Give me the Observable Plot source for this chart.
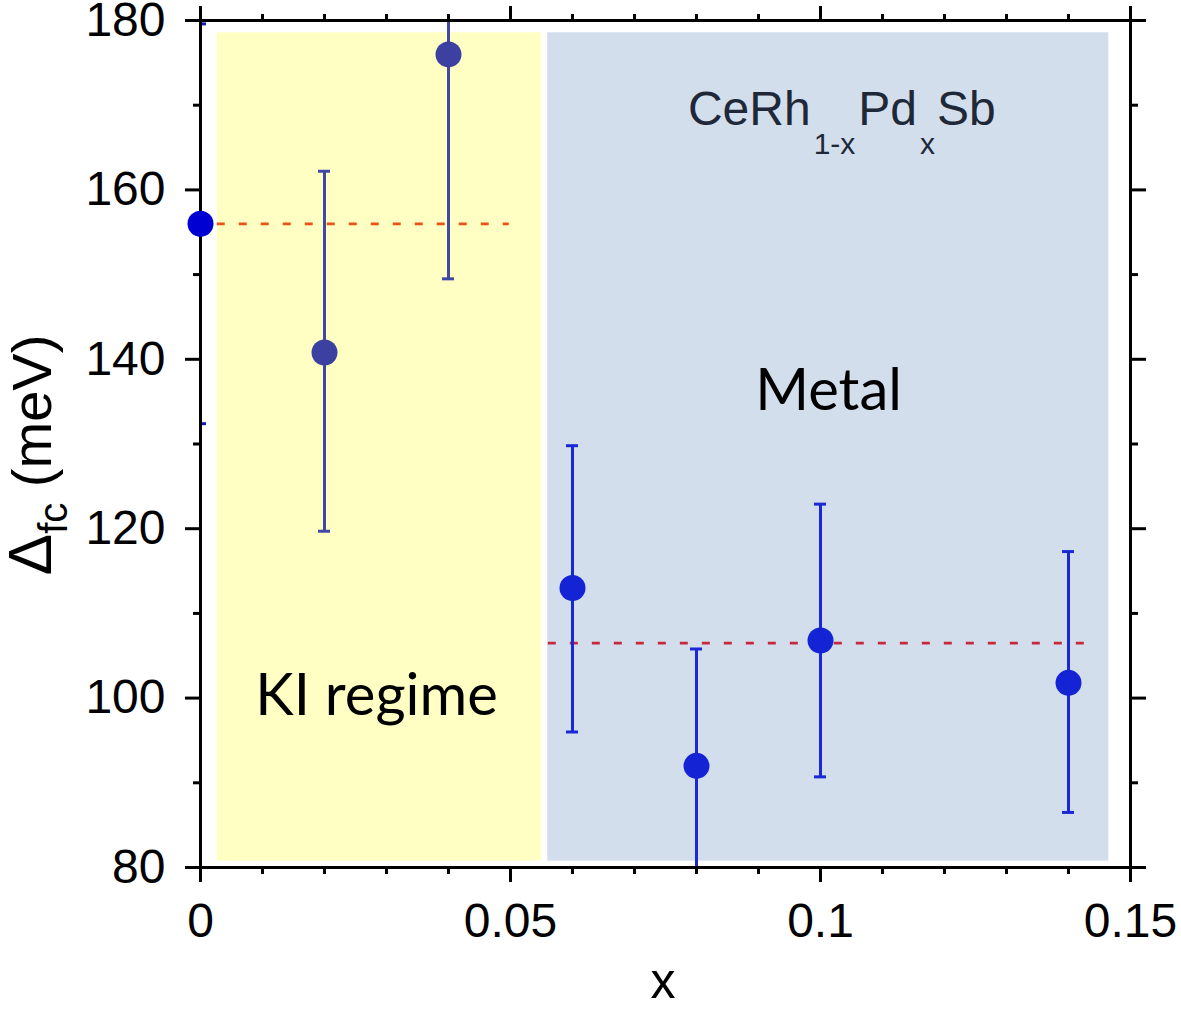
<!DOCTYPE html>
<html><head><meta charset="utf-8">
<script src="https://cdn.jsdelivr.net/npm/d3@7"></script>
<script src="https://cdn.jsdelivr.net/npm/@observablehq/plot@0.6"></script>
<style>body{margin:0;background:#fff}</style>
</head><body><div id="chart"></div>
<script>
// Data points
const xValues   = [0, 0.02, 0.04, 0.06, 0.08, 0.10, 0.14];
const gapValues = [156.0, 140.8, 176.0, 113.0, 92.0, 106.8, 101.8];
const errLow    = [132.4, 119.7, 149.5, 96.0, 78.2, 90.7, 86.5];
const errHigh   = [179.6, 162.2, 202.5, 129.8, 105.8, 122.9, 117.3];
const pointColors = ["#0000d2", "#3c40a0", "#3c40a0", "#1424d4", "#1424d4", "#1424d4", "#1424d4"];
const barColors   = ["#1a1ab8", "#4048a4", "#4048a4", "#1a28d6", "#1a28d6", "#1a28d6", "#1a28d6"];

// Axis ticks
const xMajorTicks = [0, 0.05, 0.1, 0.15];
const xTickLabels = ["0", "0.05", "0.1", "0.15"];
const xMinorTicks = [0.01, 0.02, 0.03, 0.04, 0.06, 0.07, 0.08, 0.09, 0.11, 0.12, 0.13, 0.14];
const yMajorTicks = [80, 100, 120, 140, 160, 180];
const yTickLabels = ["80", "100", "120", "140", "160", "180"];
const yMinorTicks = [90, 110, 130, 150, 170];

// Shaded regimes
const regionNames  = ["KI regime", "Metal"];
const regionX1     = [0.0027, 0.0560];
const regionX2     = [0.0550, 0.1465];
const regionY1     = [80.75, 80.75];
const regionY2     = [178.55, 178.55];
const regionFills  = ["#ffffc4", "#d3deed"];
const regionLabelX = [0.0284, 0.1013];
const regionLabelY = [97.95, 134.0];

// Mean lines
const meanY      = [156.0, 106.5];
const meanX1     = [0.0027, 0.0561];
const meanX2     = [0.0498, 0.1435];
const meanColors = ["#e8531a", "#c8283c"];

const pts = d3.range(xValues.length);
const regs = d3.range(regionNames.length);
const means = d3.range(meanY.length);
const lowCaps = pts.filter(i => errLow[i] >= 80);
const highCaps = pts.filter(i => errHigh[i] <= 180);

const axisFont = {fontSize: 48, fontFamily: "Liberation Sans, Arial, sans-serif", fill: "#000"};

const chart = Plot.plot({
  width: 1181,
  height: 1009,
  marginLeft: 200,
  marginRight: 51,
  marginTop: 20,
  marginBottom: 142,
  style: {background: "#fff", fontFamily: "Liberation Sans, Arial, sans-serif", overflow: "visible"},
  x: {domain: [0, 0.15]},
  y: {domain: [80, 180]},
  marks: [
    Plot.rect(regs, {x1: i => regionX1[i], x2: i => regionX2[i], y1: i => regionY1[i], y2: i => regionY2[i], fill: i => regionFills[i]}),
    Plot.ruleY(means, {y: i => meanY[i], x1: i => meanX1[i], x2: i => meanX2[i], stroke: i => meanColors[i], strokeWidth: 2.7, strokeDasharray: "8,14"}),
    Plot.ruleX(pts, {x: i => xValues[i], y1: i => errLow[i], y2: i => errHigh[i], stroke: i => barColors[i], strokeWidth: 3, clip: true}),
    Plot.ruleY(lowCaps, {x1: i => xValues[i], x2: i => xValues[i], y: i => errLow[i], insetLeft: -6, insetRight: -6, stroke: i => barColors[i], strokeWidth: 3, clip: true}),
    Plot.ruleY(highCaps, {x1: i => xValues[i], x2: i => xValues[i], y: i => errHigh[i], insetLeft: -6, insetRight: -6, stroke: i => barColors[i], strokeWidth: 3, clip: true}),
    Plot.text(regs, {x: i => regionLabelX[i], y: i => regionLabelY[i], text: i => regionNames[i], lineAnchor: "bottom", fontSize: 58, fontFamily: "Lato, 'Open Sans', sans-serif", fill: "#000"}),
    Plot.frame({stroke: "#000", strokeWidth: 3}),
    Plot.axisX({anchor: "bottom", ticks: xMajorTicks, tickFormat: d => xTickLabels[xMajorTicks.indexOf(d)], tickSize: 15, tickPadding: 20, strokeWidth: 3, label: null, ...axisFont}),
    Plot.axisX({anchor: "bottom", ticks: xMinorTicks, tickFormat: () => "", tickSize: 7, strokeWidth: 3, label: null}),
    Plot.axisX({anchor: "top", ticks: xMajorTicks, tickFormat: () => "", tickSize: 15, strokeWidth: 3, label: null}),
    Plot.axisX({anchor: "top", ticks: xMinorTicks, tickFormat: () => "", tickSize: 7, strokeWidth: 3, label: null}),
    Plot.axisY({anchor: "left", ticks: yMajorTicks, tickFormat: d => yTickLabels[yMajorTicks.indexOf(d)], tickSize: 15, tickPadding: 20, strokeWidth: 3, label: null, ...axisFont}),
    Plot.axisY({anchor: "left", ticks: yMinorTicks, tickFormat: () => "", tickSize: 7, strokeWidth: 3, label: null}),
    Plot.axisY({anchor: "right", ticks: yMajorTicks, tickFormat: () => "", tickSize: 15, strokeWidth: 3, label: null}),
    Plot.axisY({anchor: "right", ticks: yMinorTicks, tickFormat: () => "", tickSize: 7, strokeWidth: 3, label: null}),
    Plot.dot(pts, {x: i => xValues[i], y: i => gapValues[i], r: 13, fill: i => pointColors[i]})
  ]
});

document.getElementById("chart").appendChild(chart);

const sx = chart.scale("x"), sy = chart.scale("y");
const svg = d3.select(chart);

// Compound formula annotation
const formula = svg.append("text")
  .attr("x", sx.apply(0.0787)).attr("y", sy.apply(167.6))
  .attr("text-anchor", "start")
  .attr("font-family", "Liberation Sans, Arial, sans-serif")
  .attr("font-size", 48).attr("fill", "#1e2838");
formula.append("tspan").text("CeRh");
formula.append("tspan").attr("font-size", 30).attr("dy", 29).attr("dx", 3).text("1-x");
formula.append("tspan").attr("dy", -29).attr("dx", 3).text("Pd");
formula.append("tspan").attr("font-size", 30).attr("dy", 29).attr("dx", 3).text("x");
formula.append("tspan").attr("dy", -29).attr("dx", 2).text("Sb");

// Y axis label
const yl = svg.append("text")
  .attr("transform", "translate(51,455) rotate(-90)")
  .attr("text-anchor", "middle")
  .attr("font-family", "Liberation Sans, Arial, sans-serif")
  .attr("font-size", 56).attr("fill", "#000");
yl.append("tspan").attr("font-size", 62).text("Δ");
yl.append("tspan").attr("font-size", 40).attr("dy", 16).text("fc");
yl.append("tspan").attr("dy", -16).text(" (meV)");

// X axis label
svg.append("text")
  .attr("x", 663).attr("y", 998)
  .attr("text-anchor", "middle")
  .attr("font-family", "Liberation Sans, Arial, sans-serif")
  .attr("font-size", 50).attr("fill", "#000")
  .text("x");
</script>
</body></html>
